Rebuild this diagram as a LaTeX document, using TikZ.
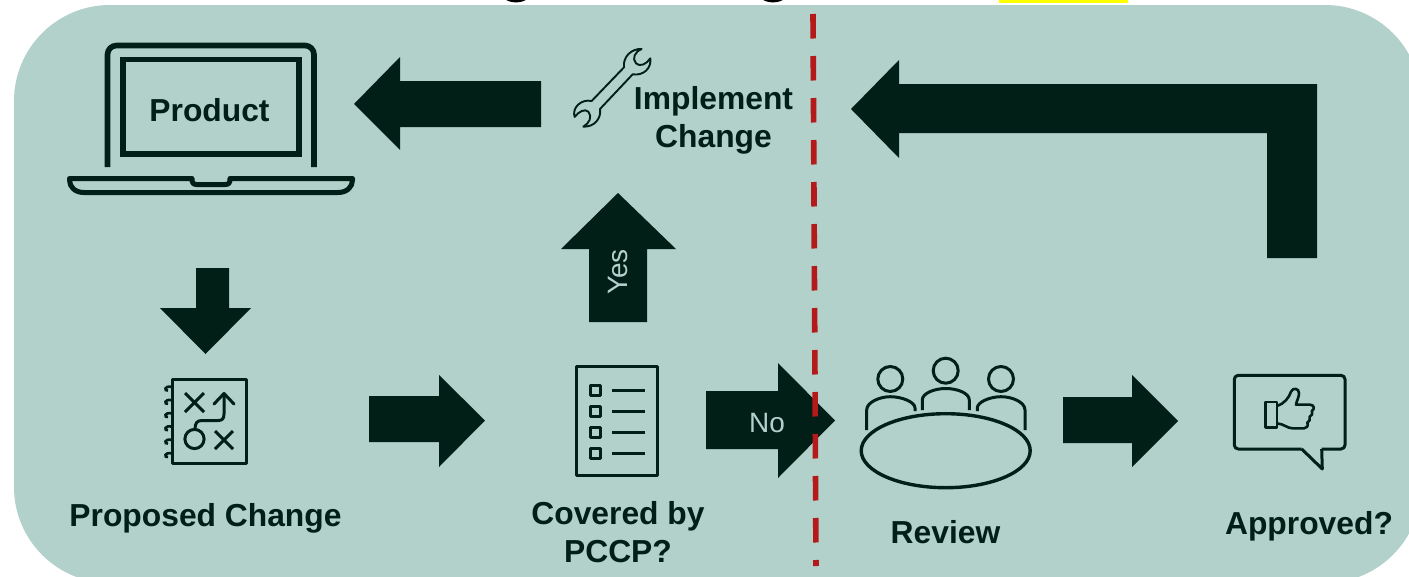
\documentclass[tikz,border=0pt]{standalone}
\usepackage{fontspec}
\setmainfont{Liberation Sans}
\definecolor{bgteal}{HTML}{B2D1CA}
\definecolor{ink}{HTML}{011F17}
\definecolor{redline}{HTML}{B41A1A}
\definecolor{hilite}{HTML}{FFFF00}
\tikzset{
  blockarrow/.style={fill=ink,draw=none},
  icon/.style={draw=ink,line width=3pt,line join=round,fill=none},
  heavyicon/.style={draw=ink,line width=5.6pt,fill=none},
  label/.style={text=ink,font=\fontsize{31.8}{38}\selectfont\bfseries,align=center,inner sep=0pt},
  inlabel/.style={text=bgteal,font=\fontsize{28}{32}\selectfont,inner sep=0pt}
}
\begin{document}
\begin{tikzpicture}[x=1pt,y=-1pt]
\useasboundingbox (0,0) rectangle (1409,576);
\clip (0,0) rectangle (1409,576);
\fill[white] (0,0) rectangle (1409,576);
% clipped title remnants
\fill[hilite] (999,0) rectangle (1128,3);
\fill[black] (505,-1) .. controls (510,3.5) and (522,3.5) .. (527,-1) -- cycle;
\fill[black] (762,-1) .. controls (767,3.5) and (779,3.5) .. (784,-1) -- cycle;
% panel
\fill[bgteal,rounded corners=96pt] (14,5) rectangle (1421,583);
% block arrows
\fill[blockarrow] (541,81) -- (400,81) -- (400,57) -- (354,104) -- (400,150) -- (400,127) -- (541,127) -- cycle;
\fill[blockarrow] (196,268) -- (229,268) -- (229,308) -- (251,308) -- (205.5,354) -- (160,308) -- (196,308) -- cycle;
\fill[blockarrow] (369,396) -- (439,396) -- (439,375) -- (485,420.5) -- (439,467) -- (439,442) -- (369,442) -- cycle;
\fill[blockarrow] (589,322) -- (589,249) -- (561,249) -- (618,193) -- (676,249) -- (647,249) -- (647,322) -- cycle;
\fill[blockarrow] (706,391) -- (778,391) -- (778,363) -- (835,420.5) -- (778,478) -- (778,449) -- (706,449) -- cycle;
\fill[blockarrow] (1063,397) -- (1132,397) -- (1132,375) -- (1178,421) -- (1132,467) -- (1132,443) -- (1063,443) -- cycle;
\fill[blockarrow] (851,109) -- (899,60) -- (899,84) -- (1317,84) -- (1317,258) -- (1267,258) -- (1267,133) -- (899,133) -- (899,158) -- cycle;
% divider
\coordinate (divtop) at (813,14);
\coordinate (divbot) at (816,566);
\draw[redline,line width=5.6pt,dash pattern=on 24.5pt off 17.5pt] (divtop) -- (divbot);
% laptop
\draw[heavyicon,rounded corners=9pt] (107.5,167) -- (107.5,45.5) -- (314,45.5) -- (314,167);
\draw[heavyicon] (123,59.5) rectangle (299,154);
\draw[ink,line width=5pt,line join=round] (69.5,178.5) -- (192,178.5) .. controls (192,183) and (193,184.5) .. (197,184.5) -- (225,184.5) .. controls (229,184.5) and (230,183) .. (230,178.5) -- (352.5,178.5) -- (352.5,180) .. controls (352.5,187) and (347,192.5) .. (338,192.5) -- (84,192.5) .. controls (75,192.5) and (69.5,187) .. (69.5,180) -- cycle;
% notebook icon
\draw[icon] (172,379) rectangle (246.7,463);
\foreach \yy in {389.5,402.8,416,429.2,442.5,456}{
  \draw[ink,line width=2.6pt] (172,\yy-2.5) .. controls (164,\yy-4.5) and (164,\yy+2) .. (168,\yy+1);
}
\draw[icon] (185,393) -- (204,412) (204,393) -- (185,412);
\draw[icon] (215,431) -- (233,449) (233,431) -- (215,449);
\draw[icon,line cap=round] (214,404) -- (224,393.5) -- (234,404);
\draw[icon] (224,393.5) -- (224,414) .. controls (224,419) and (222,420.5) .. (218,420.5) -- (202,420.5) .. controls (197,420.5) and (195,423) .. (195,429.5);
\draw[icon] (194.5,439) circle[radius=9.6];
% wrench
\begin{scope}[shift={(550,40)},x=0.3333pt,y=-0.3333pt]
\draw[draw=ink,line width=1.9pt,line join=round] (125,183) -- (222,82)
  .. controls (218,50) and (245,25) .. (275,27)
  .. controls (255,35) and (245,55) .. (258,70)
  .. controls (270,82) and (290,72) .. (301,55)
  .. controls (305,85) and (280,108) .. (248,103)
  -- (150,207)
  .. controls (155,235) and (132,262) .. (100,260)
  .. controls (118,250) and (128,230) .. (115,215)
  .. controls (105,205) and (85,215) .. (74,231)
  .. controls (65,205) and (92,176) .. (125,183) -- cycle;
\end{scope}
% checklist
\draw[icon] (576,366) rectangle (657.3,475.7);
\foreach \yy in {390,411,432,453}{
  \draw[icon] (590,\yy-5) rectangle (600,\yy+5);
  \draw[icon] (612,\yy) -- (645,\yy);
}
% review table
\draw[draw=ink,line width=3.4pt] (945.7,450.7) ellipse[x radius=84.5,y radius=37];
\draw[icon] (890.3,379) circle[radius=12.5];
\draw[icon] (945.7,370.7) circle[radius=12.5];
\draw[icon] (1001,379) circle[radius=12.5];
\draw[icon] (866.7,430) -- (866.7,410) .. controls (866.7,402) and (880,396.7) .. (890.3,396.7) .. controls (902,396.7) and (915,402) .. (915,408) -- (915,411);
\draw[icon] (922.3,410) -- (922.3,400) .. controls (922.3,393) and (935,388.5) .. (945.7,388.5) .. controls (957,388.5) and (969.3,393) .. (969.3,400) -- (969.3,410);
\draw[icon] (977.3,411) -- (977.3,408) .. controls (977.3,402) and (990,396.7) .. (1001,396.7) .. controls (1012,396.7) and (1025,402) .. (1025,410) -- (1025,430);
% speech bubble and thumb
\draw[icon,rounded corners=4pt] (1301.7,449) -- (1234.3,449) -- (1234.3,375.3) -- (1345,375.3) -- (1345,449) -- (1321.7,449);
\draw[icon] (1301.7,449) -- (1322.3,469) -- (1321.7,449);
\begin{scope}[shift={(1210,360)},x=0.3333pt,y=-0.3333pt]
\draw[draw=ink,line width=2.6pt,line join=round] (166,126) rectangle (201,202);
\draw[draw=ink,line width=2.6pt,line join=round] (201,138) .. controls (222,132) and (238,112) .. (243,95)
  .. controls (248,82) and (268,84) .. (267,100)
  .. controls (267,112) and (260,122) .. (258,134)
  -- (300,134) .. controls (314,135) and (314,148) .. (306,152)
  .. controls (310,160) and (305,168) .. (299,170)
  .. controls (302,178) and (297,186) .. (292,188)
  .. controls (296,198) and (290,205) .. (282,205)
  -- (248,205) .. controls (232,205) and (222,192) .. (201,190);
\end{scope}
% labels
\node[label] (product) at (209.5,110) {Product};
\node[label] (implement) at (713.5,120.5) {Implement\\Change};
\node[label] (proposed) at (205.5,518.5) {Proposed Change};
\node[label] (covered) at (618,532) {Covered by\\PCCP?};
\node[label] (review) at (945.5,532) {Review};
\node[label] (approved) at (1309,526.5) {Approved?};
\node[inlabel,rotate=90] (yes) at (618,272) {Yes};
\node[inlabel] (no) at (767,423) {No};
\end{tikzpicture}
\end{document}
